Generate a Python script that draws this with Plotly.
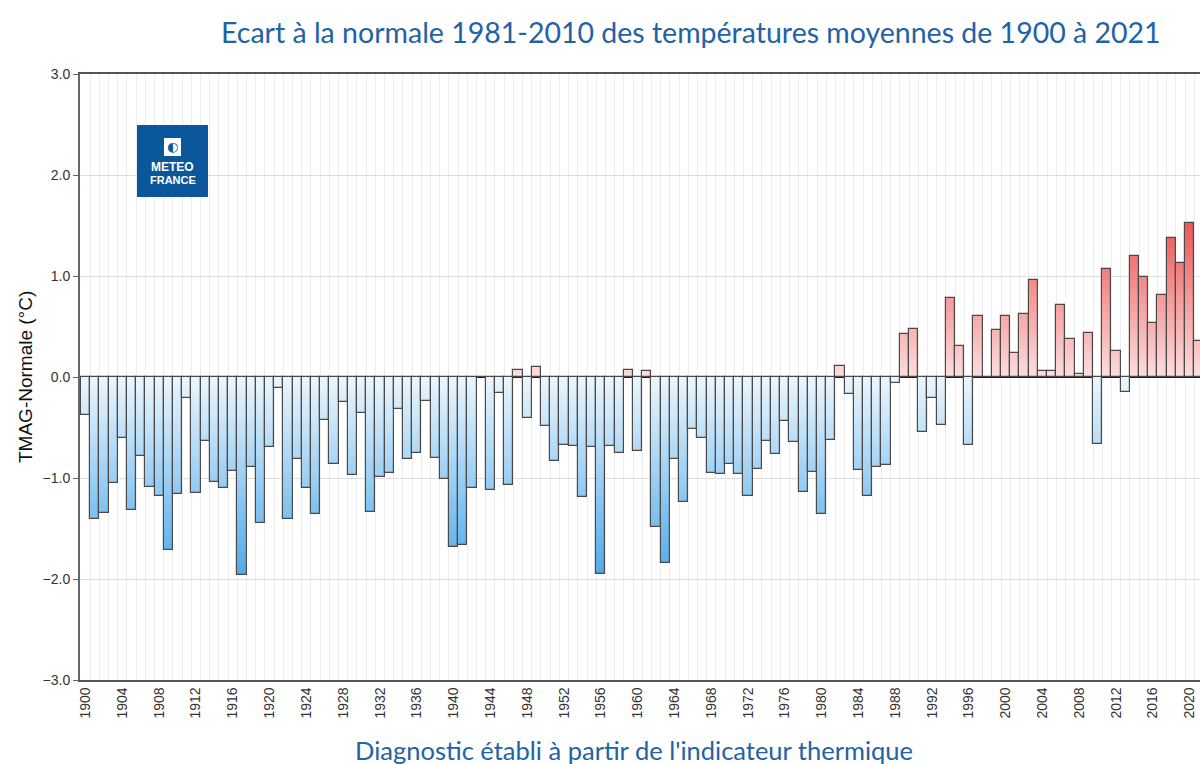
import plotly.graph_objects as go
import numpy as np

# ---------------- data ----------------
years = list(range(1900, 2022))
anomalies = [
    -0.38, -1.41, -1.35, -1.05, -0.60, -1.32, -0.78, -1.09, -1.18, -1.71,   # 1900-1909
    -1.16, -0.21, -1.15, -0.63, -1.04, -1.10, -0.93, -1.96, -0.89, -1.45,   # 1910-1919
    -0.69, -0.11, -1.41, -0.81, -1.10, -1.36, -0.43, -0.86, -0.25, -0.97,   # 1920-1929
    -0.36, -1.34, -0.99, -0.95, -0.32, -0.81, -0.75, -0.24, -0.80, -1.01,   # 1930-1939
    -1.68, -1.66, -1.10, 0.00, -1.12, -0.16, -1.07, 0.07, -0.41, 0.10,      # 1940-1949
    -0.49, -0.83, -0.67, -0.68, -1.19, -0.69, -1.95, -0.68, -0.75, 0.07,    # 1950-1959
    -0.73, 0.06, -1.49, -1.84, -0.81, -1.24, -0.51, -0.60, -0.95, -0.96,    # 1960-1969
    -0.86, -0.96, -1.18, -0.91, -0.63, -0.76, -0.44, -0.64, -1.14, -0.94,   # 1970-1979
    -1.36, -0.62, 0.11, -0.17, -0.92, -1.18, -0.89, -0.87, -0.06, 0.43,     # 1980-1989
    0.48, -0.54, -0.21, -0.48, 0.78, 0.31, -0.67, 0.60, 0.00, 0.47,         # 1990-1999
    0.60, 0.24, 0.62, 0.96, 0.06, 0.06, 0.71, 0.38, 0.03, 0.44,             # 2000-2009
    -0.66, 1.07, 0.26, -0.15, 1.20, 0.99, 0.53, 0.81, 1.38, 1.13,           # 2010-2019
    1.52, 0.36,                                                              # 2020-2021
]
assert len(anomalies) == len(years)

tick_years = list(range(1900, 2021, 4))
tick_labels = [str(y) for y in tick_years]

title_text = "Ecart à la normale 1981-2010 des températures moyennes de 1900 à 2021"
footer_text = "Diagnostic établi à partir de l'indicateur thermique"
yaxis_title = "TMAG-Normale (°C)"

# ---------------- styling helpers ----------------
BLUE_LIGHT = (236, 246, 253)
BLUE_DARK = (76, 168, 234)
RED_LIGHT = (252, 222, 222)
RED_DARK = (238, 84, 84)


def blend(c0, c1, t):
    t = max(0.0, min(1.0, t))
    r, g, b = (round(a + (b_ - a) * t) for a, b_ in zip(c0, c1))
    return f"rgb({r},{g},{b})"


vals = np.array(anomalies)
step = 0.04
levels = np.arange(step, 2.0 + 1e-9, step)[::-1]  # deepest first

fig = go.Figure()

# vertical gradient inside the bars: nested overlaid bars, shallower ones on top
for d in levels:
    clipped = np.where(vals < 0, np.maximum(vals, -d), np.minimum(vals, d))
    mid = d - step / 2
    colors = [blend(BLUE_LIGHT, BLUE_DARK, mid / 2.0) if v < 0
              else blend(RED_LIGHT, RED_DARK, mid / 1.55) for v in vals]
    fig.add_trace(go.Bar(
        x=years, y=clipped, width=1.0,
        marker=dict(color=colors, line=dict(width=0)),
        hoverinfo="skip", showlegend=False,
    ))

# outlines
fig.add_trace(go.Bar(
    x=years, y=anomalies, width=1.0,
    marker=dict(color="rgba(0,0,0,0)", line=dict(color="#4a4a4a", width=1.2)),
    showlegend=False, hovertemplate="%{x}: %{y:.2f} °C<extra></extra>",
))

fig.update_layout(
    width=1200, height=764,
    margin=dict(l=80, r=0, t=74, b=84),
    barmode="overlay", bargap=0,
    paper_bgcolor="white", plot_bgcolor="white",
    font=dict(family="Liberation Sans, Arial, sans-serif", size=14, color="#333333"),
    showlegend=False,
)

fig.update_xaxes(
    range=[1899.4, 2021.12],
    tickmode="array", tickvals=tick_years, ticktext=tick_labels,
    tickangle=-90, tickfont=dict(size=14, color="#333333"),
    ticks="", showgrid=False,
    minor=dict(tick0=1899.5, dtick=1, showgrid=True, gridcolor="#ececec", gridwidth=1, ticks=""),
    showline=True, linecolor="#555555", linewidth=1.5, mirror=True,
    zeroline=False,
)
fig.update_yaxes(
    range=[-3, 3], dtick=1, tick0=0, tickformat=".1f",
    tickfont=dict(size=14, color="#333333"),
    ticks="outside", ticklen=5, tickcolor="#666666",
    showgrid=True, gridcolor="#dedede", gridwidth=1,
    showline=True, linecolor="#666666", linewidth=2,
    zeroline=True, zerolinecolor="#222222", zerolinewidth=1.5,
)

annotations = [
    dict(text=title_text, xref="paper", yref="paper", x=0.5455, y=1.0693,
         xanchor="center", yanchor="middle", showarrow=False,
         font=dict(family="Lato, Open Sans, sans-serif", size=28.5, color="#2262a5")),
    dict(text=footer_text, xref="paper", yref="paper", x=0.4946, y=-0.1155,
         xanchor="center", yanchor="middle", showarrow=False,
         font=dict(family="Lato, Open Sans, sans-serif", size=25.5, color="#2262a5")),
    dict(text=yaxis_title, xref="paper", yref="paper", x=-0.0491, y=0.5,
         xanchor="center", yanchor="middle", textangle=-90, showarrow=False,
         font=dict(family="Liberation Sans, Arial, sans-serif", size=19, color="#111111")),
    # logo text
    dict(text="<b>METEO</b>", xref="paper", yref="paper",
         x=(172.5 - 80) / 1120, y=(680 - 167) / 606, xanchor="center", yanchor="middle",
         showarrow=False, font=dict(family="Liberation Sans, Arial, sans-serif", size=12, color="white")),
    dict(text="<b>FRANCE</b>", xref="paper", yref="paper",
         x=(172.5 - 80) / 1120, y=(680 - 180) / 606, xanchor="center", yanchor="middle",
         showarrow=False, font=dict(family="Liberation Sans, Arial, sans-serif", size=11, color="white")),
    dict(text="◐", xref="paper", yref="paper",
         x=(172.5 - 80) / 1120, y=(680 - 147) / 606, xanchor="center", yanchor="middle",
         showarrow=False, font=dict(family="DejaVu Sans", size=13, color="#0b579b")),
]
fig.update_layout(annotations=annotations)

shapes = [
    dict(type="rect", xref="paper", yref="paper",
         x0=(137 - 80) / 1120, x1=(208 - 80) / 1120,
         y0=(680 - 197) / 606, y1=(680 - 125) / 606,
         fillcolor="#0b579b", line=dict(width=0), layer="above"),
    dict(type="rect", xref="paper", yref="paper",
         x0=(164 - 80) / 1120, x1=(181 - 80) / 1120,
         y0=(680 - 156) / 606, y1=(680 - 138) / 606,
         fillcolor="white", line=dict(width=0), layer="above"),
]
fig.update_layout(shapes=shapes)

fig.write_html(
    "out.html",
    config={"displayModeBar": False},
    post_script="document.body.style.margin='0';document.body.style.overflow='hidden';",
)
